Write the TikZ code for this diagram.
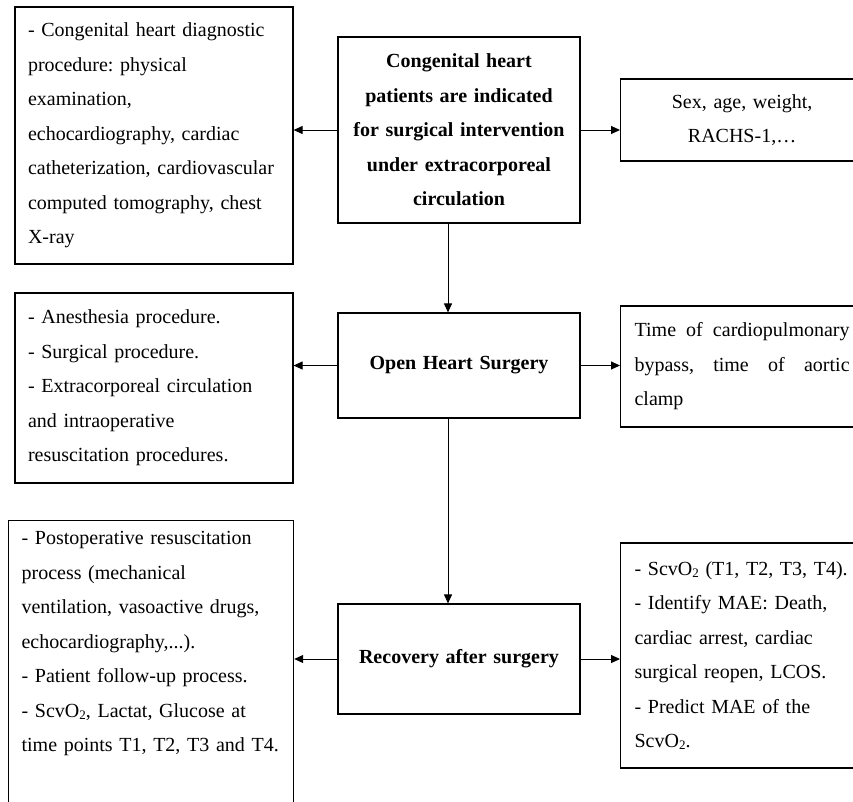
\documentclass[tikz,border=0pt]{standalone}
\usepackage{fontspec}
\setmainfont{Liberation Serif}
\usetikzlibrary{arrows.meta}
\frenchspacing
\newcommand{\subtwo}{\raisebox{-2pt}{\fontsize{13}{13}\selectfont 2}}

\begin{document}
\begin{tikzpicture}[x=1pt, y=-1pt, line width=1.2pt,
  >={Triangle[length=9pt,width=8pt]},
  box/.style={draw, font=\fontsize{20}{34.5}\selectfont, inner ysep=0pt},
  side/.style={box, align=left, inner xsep=13pt},
  main/.style={box, align=center, text width=232pt, inner xsep=5pt,
    font=\fontsize{20}{34.5}\selectfont\bfseries},
  info/.style={box, anchor=west, inner xsep=14pt, text width=215pt}]
\useasboundingbox (0,0) rectangle (853,801);
\clip (0,0) rectangle (853,801);

\node[main, minimum height=186pt] (cond) at (459,130)
  {Congenital heart\\patients are indicated\\for surgical intervention\\under extracorporeal\\circulation};
\node[main, minimum height=105pt] (open) at (459,365.5) {Open Heart Surgery};
\node[main, minimum height=110pt] (recov) at (459,659) {Recovery after surgery};

\node[side, text width=252pt, minimum height=257pt] (diag) at (154,135.5)
  {- Congenital heart diagnostic\\procedure: physical\\examination,\\echocardiography, cardiac\\catheterization, cardiovascular\\computed tomography, chest\\X-ray};
\node[side, text width=252pt, minimum height=190pt] (surg) at (154,388)
  {- Anesthesia procedure.\\- Surgical procedure.\\- Extracorporeal circulation\\and intraoperative\\resuscitation procedures.};
\node[side, text width=259pt, anchor=north west, inner ysep=11pt] (post) at (8,520)
  {- Postoperative resuscitation\\process (mechanical\\ventilation, vasoactive drugs,\\echocardiography,...).\\- Patient follow-up process.\\- ScvO\subtwo, Lactat, Glucose at\\time points T1, T2, T3 and T4.\\ \mbox{}\\ \mbox{}};

\node[info, align=center, minimum height=82pt] (demo) at (620,120)
  {Sex, age, weight,\\RACHS-1,…};
\node[info, align=left, minimum height=121pt] (bypass) at (620,366.5)
  {Time\hfill of\hfill cardiopulmonary\\bypass,\hfill time\hfill of\hfill aortic\\clamp};
\node[info, align=left, minimum height=225pt] (mae) at (620,655.5)
  {- ScvO\subtwo{} (T1, T2, T3, T4).\\- Identify MAE: Death,\\cardiac arrest, cardiac\\surgical reopen, LCOS.\\- Predict MAE of the\\ScvO\subtwo.};

\path[->, line width=1pt]
  (cond.west) edge (cond.west -| diag.east)
  (cond.east) edge (cond.east -| demo.west)
  ([xshift=-11pt]cond.south) edge ([xshift=-11pt]open.north)
  (open.west) edge (open.west -| surg.east)
  (open.east) edge (open.east -| bypass.west)
  ([xshift=-11pt]open.south) edge ([xshift=-11pt]recov.north)
  (recov.west) edge (recov.west -| post.east)
  (recov.east) edge (recov.east -| mae.west);
\end{tikzpicture}
\end{document}
